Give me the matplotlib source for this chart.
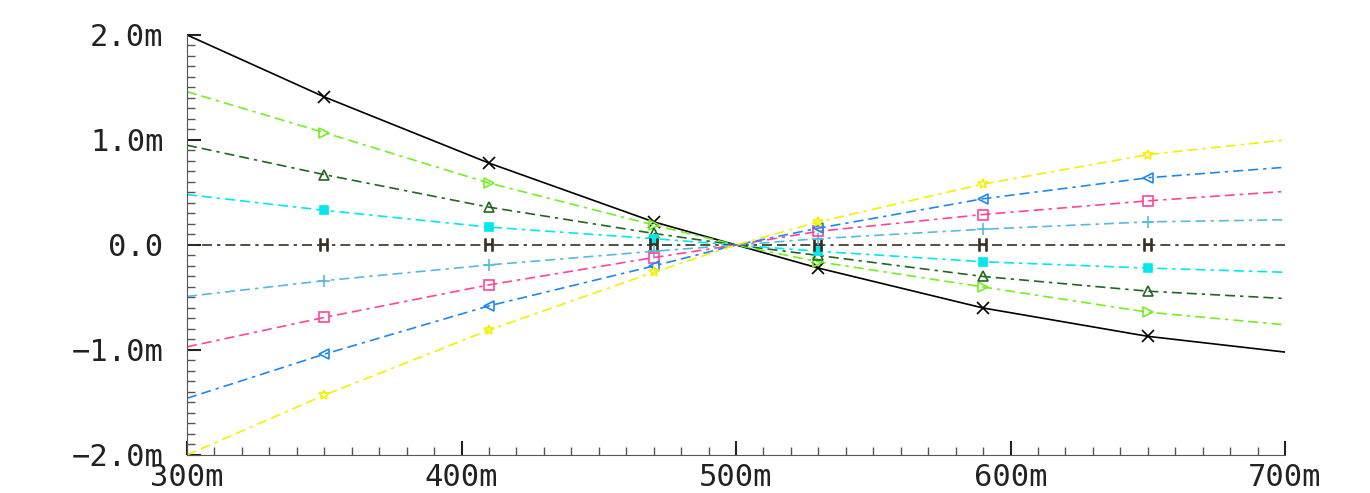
import numpy as np
import matplotlib.pyplot as plt
from matplotlib.ticker import FixedLocator, MultipleLocator

# sweep points (m)
x_mv = [300, 350, 410, 470, 500, 530, 590, 650, 700]

# curve values in mV (axis is in mV, labelled "m")
black = [2.00, 1.41, 0.78, 0.22, 0.0, -0.22, -0.60, -0.87, -1.02]
green = [1.46, 1.07, 0.59, 0.19, 0.0, -0.16, -0.40, -0.64, -0.76]
dkgreen = [0.95, 0.67, 0.36, 0.11, 0.0, -0.10, -0.30, -0.44, -0.51]
cyan = [0.48, 0.33, 0.17, 0.06, 0.0, -0.06, -0.16, -0.22, -0.26]
zero = [0.0, 0.0, 0.0, 0.0, 0.0, 0.0, 0.0, 0.0, 0.0]
sky = [-0.49, -0.34, -0.19, -0.06, 0.0, 0.06, 0.15, 0.22, 0.24]
pink = [-0.97, -0.69, -0.38, -0.12, 0.0, 0.13, 0.29, 0.42, 0.51]
blue = [-1.46, -1.04, -0.58, -0.20, 0.0, 0.16, 0.44, 0.64, 0.74]
yellow = [-2.00, -1.43, -0.81, -0.26, 0.0, 0.22, 0.58, 0.86, 1.00]

series = [
    (black, "#000000", "-", "x"),
    (green, "#77ee22", "--", ">"),
    (dkgreen, "#226622", "--", "^"),
    (cyan, "#00e8ee", "--", "s"),
    (zero, "#3a3020", "--", r"$\mathrm{H}$"),
    (sky, "#55bbdd", "--", "+"),
    (pink, "#ff4499", "--", "s"),
    (blue, "#1e88ee", "--", "<"),
    (yellow, "#f4f000", "--", "*"),
]

yticks = [-2.0, -1.0, 0.0, 1.0, 2.0]
ylabels = ["\u22122.0m", "\u22121.0m", "0.0", "1.0m", "2.0m"]
xticks = [300, 400, 500, 600, 700]
xlabels = ["300m", "400m", "500m", "600m", "700m"]

fig = plt.figure(figsize=(13.7, 4.93), dpi=100)
ax = fig.add_axes([0.1365, 0.0771, 0.8015, 0.852])

x = np.array(x_mv)
mark_idx = [1, 2, 3, 5, 6, 7]
for vals, col, ls, mk in series:
    if ls == "-":
        ax.plot(x, vals, color=col, lw=1.2)
    else:
        ax.plot(x, vals, color=col, lw=1.2, dashes=(6, 3, 6, 3, 2, 3))
    xm = x[mark_idx]
    ym = np.array(vals)[mark_idx]
    if mk in ("s", ">", "^", "<", "*"):
        filled = col == "#00e8ee"
        ax.plot(xm, ym, ls="none", marker=mk, ms=6 if filled else 7,
                mfc=col if filled else "none", mec=col, mew=1.2)
    else:
        ax.plot(xm, ym, ls="none", marker=mk, ms=8, color=col, mew=1.2)

ax.set_xlim(300, 700)
ax.set_ylim(-2.0, 2.0)

for s in ["top", "right"]:
    ax.spines[s].set_visible(False)
ax.spines["left"].set_color("#555555")
ax.spines["bottom"].set_color("#555555")

ax.xaxis.set_major_locator(FixedLocator(xticks))
ax.yaxis.set_major_locator(FixedLocator(yticks))
ax.xaxis.set_minor_locator(MultipleLocator(10))
ax.yaxis.set_minor_locator(MultipleLocator(0.1))
ax.set_xticklabels(xlabels)
ax.set_yticklabels(ylabels)
ax.tick_params(which="major", direction="in", length=10, width=1.5, color="#222222")
ax.tick_params(which="minor", direction="in", length=6, width=1, color="#555555")
ax.tick_params(axis="y", which="major", pad=17)
ax.tick_params(axis="x", which="major", pad=6)
for lab in ax.get_xticklabels() + ax.get_yticklabels():
    lab.set_fontfamily("DejaVu Sans Mono")
    lab.set_fontsize(22)
    lab.set_color("#222222")

fig.savefig("out.png", dpi=100)
